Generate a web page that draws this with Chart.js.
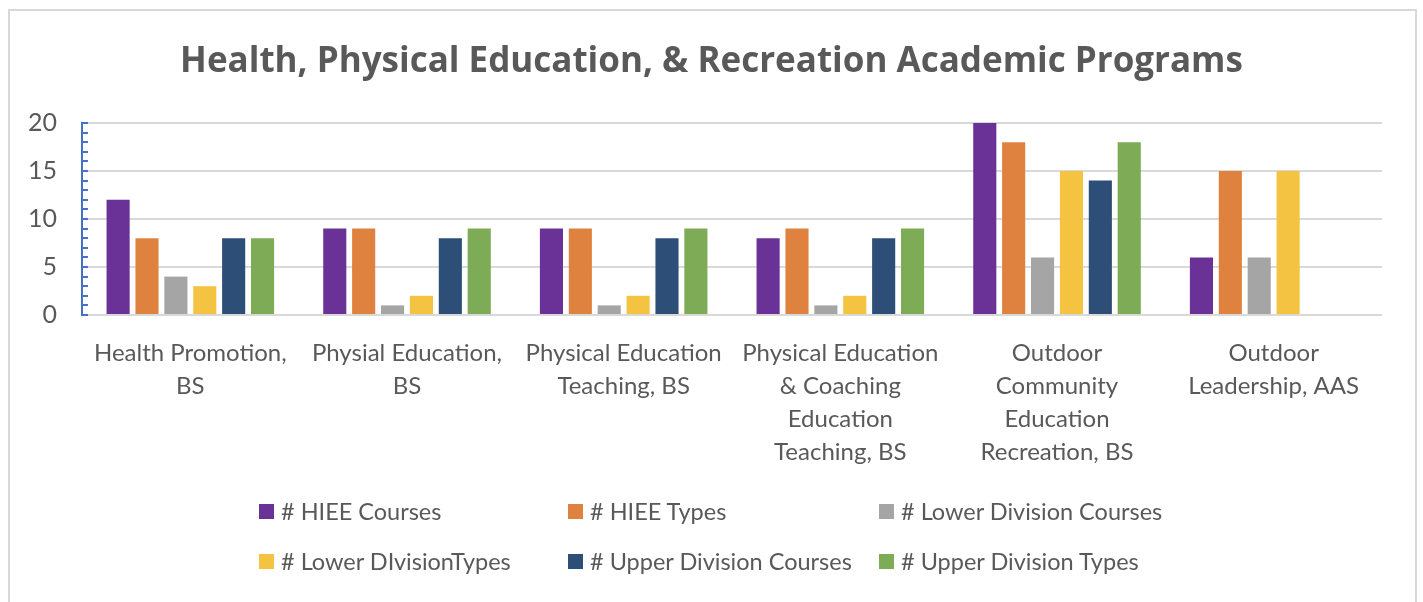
<!DOCTYPE html>
<html>
<head>
<meta charset="utf-8">
<script src="https://cdn.jsdelivr.net/npm/chart.js@4"></script>
<style>
  html, body { margin: 0; padding: 0; background: #fff; }
  body { width: 1423px; height: 602px; position: relative; overflow: hidden; font-family: Lato, sans-serif; }
  #frame { position: absolute; left: 8px; top: 9px; width: 1405px; height: 640px; border: 2px solid #d9d9d9; }
  #wrap { position: absolute; left: 0; top: 0; width: 1423px; height: 602px; }
  #legend { position: absolute; left: 0; top: 0; width: 1423px; height: 602px; pointer-events: none; }
  .item { position: absolute; display: flex; align-items: center; font-size: 23.5px; color: #595959; white-space: nowrap; }
  .box { width: 15px; height: 15px; margin-right: 7px; }
</style>
</head>
<body>
<div id="frame"></div>
<div id="wrap"><canvas id="chart" width="1423" height="602"></canvas></div>
<div id="legend"></div>
<script>
// categories (already split the way the labels wrap)
const categories = [
  ["Health Promotion,", "BS"],
  ["Physial Education,", "BS"],
  ["Physical Education", "Teaching, BS"],
  ["Physical Education", "& Coaching", "Education", "Teaching, BS"],
  ["Outdoor", "Community", "Education", "Recreation, BS"],
  ["Outdoor", "Leadership, AAS"]
];

const seriesNames = [
  "# HIEE Courses",
  "# HIEE Types",
  "# Lower Division Courses",
  "# Lower DIvisionTypes",
  "# Upper Division Courses",
  "# Upper Division Types"
];

const hieeCourses = [12, 9, 9, 8, 20, 6];
const hieeTypes = [8, 9, 9, 9, 18, 15];
const lowerDivCourses = [4, 1, 1, 1, 6, 6];
const lowerDivTypes = [3, 2, 2, 2, 15, 15];
const upperDivCourses = [8, 8, 8, 8, 14, null];
const upperDivTypes = [8, 9, 9, 9, 18, null];

const yTicks = [0, 5, 10, 15, 20];

const colors = ["#6a3296", "#e0823f", "#a5a5a5", "#f4c342", "#2c4e77", "#7eab55"];
const seriesValues = [hieeCourses, hieeTypes, lowerDivCourses, lowerDivTypes, upperDivCourses, upperDivTypes];

new Chart(document.getElementById("chart"), {
  type: "bar",
  data: {
    labels: categories,
    datasets: seriesNames.map((name, i) => ({
      label: name,
      data: seriesValues[i],
      backgroundColor: colors[i],
      categoryPercentage: 0.8,
      barPercentage: 0.8
    }))
  },
  options: {
    responsive: false,
    animation: false,
    layout: { padding: 0 },
    plugins: {
      legend: { display: false },
      tooltip: { enabled: false },
      title: {
        display: true,
        text: "Health, Physical Education, & Recreation Academic Programs",
        color: "#595959",
        font: { family: "Open Sans", size: 35, weight: "bold" },
        padding: { top: 41, bottom: 40 }
      }
    },
    scales: {
      x: {
        grid: { display: false },
        border: { display: false },
        ticks: {
          color: "#595959",
          font: { family: "Lato", size: 24, lineHeight: 1.375 },
          padding: 14,
          maxRotation: 0,
          autoSkip: false
        },
        afterFit: s => { s.height = 287; }
      },
      y: {
        min: 0,
        max: 20,
        border: { display: true, color: "#4472c4", width: 2 },
        grid: {
          color: ctx => (yTicks.includes(ctx.tick.value) ? "#d9d9d9" : "rgba(0,0,0,0)"),
          lineWidth: 2,
          drawTicks: true,
          tickLength: -6,
          tickColor: "#4472c4",
          tickWidth: 2
        },
        ticks: {
          stepSize: 1,
          autoSkip: false,
          color: "#595959",
          font: { family: "Lato", size: 25 },
          padding: 31,
          callback: v => (yTicks.includes(v) ? v : "")
        },
        afterFit: s => { s.width = 82; }
      },
      // empty right-hand spacer so the title stays centred on the whole page
      spacer: {
        position: "right",
        grid: { display: false },
        border: { display: false },
        ticks: { display: false },
        afterFit: s => { s.width = 41; }
      }
    }
  }
});

// legend laid out in Excel-style columns
const legendCols = [259, 568, 879];
const legendRows = [512, 562];
const legend = document.getElementById("legend");
seriesNames.forEach((name, i) => {
  const el = document.createElement("div");
  el.className = "item";
  el.style.left = legendCols[i % 3] + "px";
  el.style.top = (legendRows[Math.floor(i / 3)] - 16) + "px";
  el.style.height = "30px";
  el.innerHTML = '<span class="box" style="background:' + colors[i] + '"></span>' + name;
  legend.appendChild(el);
});
</script>
</body>
</html>
